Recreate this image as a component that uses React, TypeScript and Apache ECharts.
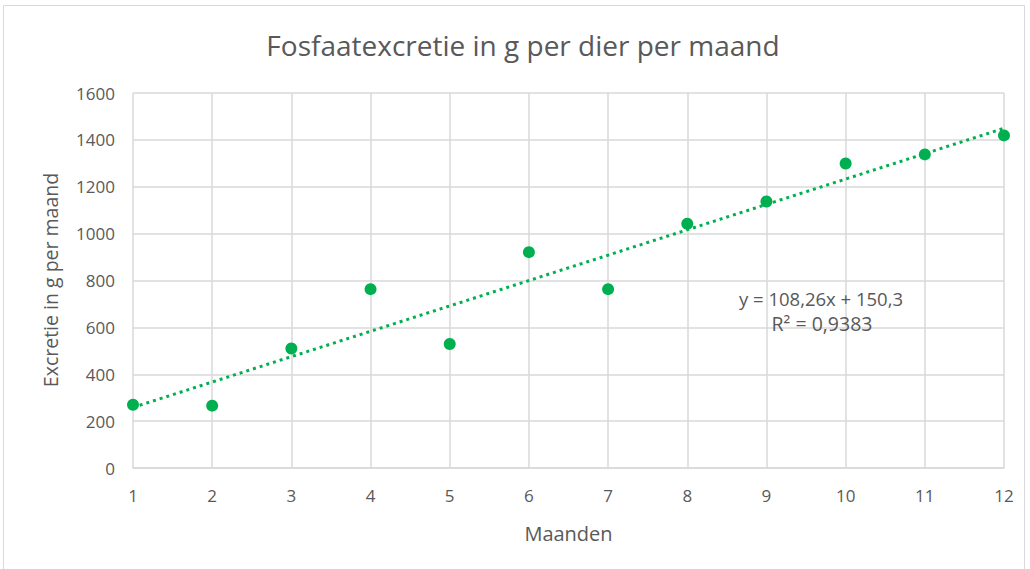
import React, { useEffect, useRef } from "react";
import * as echarts from "echarts";

const months = [1, 2, 3, 4, 5, 6, 7, 8, 9, 10, 11, 12];
const excretion = [270, 266, 510, 763, 529, 921, 763, 1042, 1137, 1299, 1338, 1419];
const slope = 108.26;
const intercept = 150.3;
const equationText = "y = 108,26x + 150,3";
const r2Text = "R² = 0,9383";
const yTicks = [0, 200, 400, 600, 800, 1000, 1200, 1400, 1600];

const GREEN = "#00b050";
const TEXT = "#595959";
const GRID = "#d9d9d9";
const FONT = "'Open Sans', Lato, sans-serif";

export default function App() {
  const ref = useRef<HTMLDivElement>(null);
  useEffect(() => {
    if (!ref.current) return;
    const chart = echarts.init(ref.current, undefined, { renderer: "svg" });
    const first = months[0];
    const last = months[months.length - 1];
    const trend = [
      [first, slope * first + intercept],
      [last, slope * last + intercept],
    ];
    chart.setOption({
      animation: false,
      backgroundColor: "#ffffff",
      title: {
        text: "Fosfaatexcretie in g per dier per maand",
        left: 518,
        top: 26,
        textAlign: "center",
        textStyle: { fontFamily: FONT, fontSize: 28, fontWeight: "normal", color: TEXT },
      },
      grid: { left: 133, right: 26, top: 93, bottom: 101 },
      xAxis: {
        type: "value",
        min: 1,
        max: 12,
        interval: 1,
        name: "Maanden",
        nameLocation: "middle",
        nameGap: 55,
        nameTextStyle: { fontFamily: FONT, fontSize: 20, color: TEXT },
        axisLine: { show: true, lineStyle: { color: GRID, width: 1.5 } },
        axisTick: { show: false },
        axisLabel: { fontFamily: FONT, fontSize: 17, color: TEXT, margin: 19 },
        splitLine: { show: true, lineStyle: { color: GRID, width: 1.5 } },
      },
      yAxis: {
        type: "value",
        min: yTicks[0],
        max: yTicks[yTicks.length - 1],
        interval: 200,
        axisLine: { show: false },
        axisTick: { show: false },
        axisLabel: {
          fontFamily: FONT,
          fontSize: 17,
          color: TEXT,
          margin: 18,
          formatter: (v: number) => String(v),
        },
        splitLine: { show: true, lineStyle: { color: GRID, width: 1.5 } },
      },
      series: [
        {
          type: "line",
          data: trend,
          symbol: "none",
          silent: true,
          lineStyle: { color: GREEN, width: 3, type: [3, 4] },
          z: 2,
        },
        {
          type: "scatter",
          data: months.map((m, i) => [m, excretion[i]]),
          symbol: "circle",
          symbolSize: 12,
          itemStyle: { color: GREEN, opacity: 1 },
          z: 3,
        },
      ],
      graphic: [
        {
          type: "rect",
          shape: { x: 3.5, y: 5.5, width: 1021, height: 580 },
          style: { fill: "none", stroke: "#d9d9d9", lineWidth: 1 },
          silent: true,
        },
        {
          type: "text",
          x: 50,
          y: 280,
          rotation: Math.PI / 2,
          style: {
            text: "Excretie in g per maand",
            fontFamily: FONT,
            fontSize: 19.5,
            fill: TEXT,
            align: "center",
            verticalAlign: "middle",
          },
          z: 10,
        },
        {
          type: "text",
          x: 821,
          y: 298,
          style: {
            text: equationText,
            fontFamily: FONT,
            fontSize: 18.5,
            fill: TEXT,
            align: "center",
            verticalAlign: "middle",
          },
          z: 10,
        },
        {
          type: "text",
          x: 822,
          y: 323,
          style: {
            text: r2Text,
            fontFamily: FONT,
            fontSize: 19.5,
            fill: TEXT,
            align: "center",
            verticalAlign: "middle",
          },
          z: 10,
        },
      ],
    });
    return () => chart.dispose();
  }, []);
  return (
    <div
      ref={ref}
      style={{ position: "fixed", left: 0, top: 0, width: 1030, height: 569 }}
    />
  );
}
